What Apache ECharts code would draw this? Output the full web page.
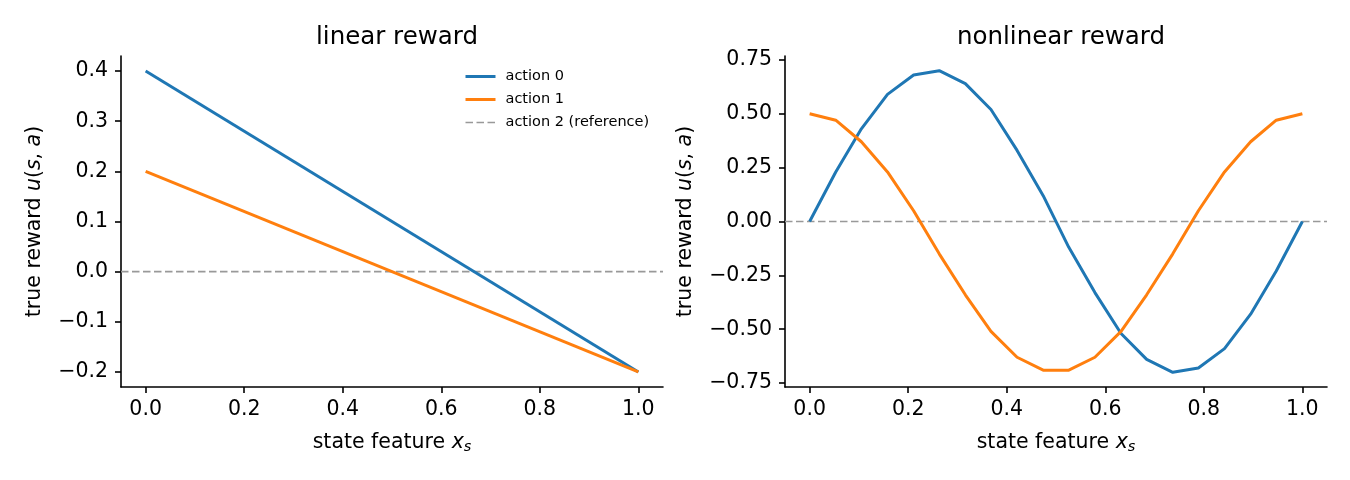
<!DOCTYPE html>
<html>
<head>
<meta charset="utf-8">
<script src="https://cdn.jsdelivr.net/npm/echarts@6/dist/echarts.min.js"></script>
<style>
  html, body { margin: 0; padding: 0; background: #fff; }
  #chart { width: 1350px; height: 480px; }
</style>
</head>
<body>
<div id="chart"></div>
<script>
// 左图: 线性奖励 (两端点)
const linX = [0.0, 1.0];
const linAction0 = [0.4, -0.2];
const linAction1 = [0.2, -0.2];

// 右图: 非线性奖励 (20 个采样点)
const nlX = [0.0, 0.053, 0.105, 0.158, 0.211, 0.263, 0.316, 0.368, 0.421, 0.474,
             0.526, 0.579, 0.632, 0.684, 0.737, 0.789, 0.842, 0.895, 0.947, 1.0];
const nlAction0 = [0.0, 0.23, 0.43, 0.59, 0.68, 0.70, 0.64, 0.52, 0.33, 0.12,
                   -0.12, -0.33, -0.52, -0.64, -0.70, -0.68, -0.59, -0.43, -0.23, 0.0];
const nlAction1 = [0.50, 0.47, 0.37, 0.23, 0.05, -0.15, -0.34, -0.51, -0.63, -0.69,
                   -0.69, -0.63, -0.51, -0.34, -0.15, 0.05, 0.23, 0.37, 0.47, 0.50];

// 参考线 (action 2 = 0)
const refX = [-0.05, 1.05];
const refY = [0, 0];

// 刻度
const xTicks = [0.0, 0.2, 0.4, 0.6, 0.8, 1.0];
const yTicksLeft = [-0.2, -0.1, 0.0, 0.1, 0.2, 0.3, 0.4];
const yTicksRight = [-0.75, -0.5, -0.25, 0.0, 0.25, 0.5, 0.75];

const FONT = 'DejaVu Sans';
const FS = 20.5;
const BLUE = '#1f77b4';
const ORANGE = '#ff7f0e';
const GREY = '#999999';

const zip = (xs, ys) => xs.map((x, i) => [x, ys[i]]);
const fmt = (v, d) => (v < 0 ? '\u2212' : '') + Math.abs(v).toFixed(d);

const axisCommon = {
  type: 'value',
  splitLine: {show: false},
  axisLine: {show: true, onZero: false, lineStyle: {color: '#000', width: 1.6}},
  axisTick: {show: true, length: 6, lineStyle: {color: '#000', width: 1.6}},
  axisLabel: {color: '#000', fontFamily: FONT, fontSize: FS},
  nameTextStyle: {color: '#000', fontFamily: FONT, fontSize: FS}
};

const xName = '{n|state feature }{i|x}{s|s}';
const yName = '{n|true reward }{i|u}{n|(}{i|s}{n|, }{i|a}{n|)}';
const richName = {
  n: {fontFamily: FONT, fontSize: FS, color: '#000'},
  i: {fontFamily: FONT, fontSize: FS, fontStyle: 'italic', color: '#000'},
  s: {fontFamily: FONT, fontSize: 14.5, fontStyle: 'italic', color: '#000', padding: [10, 0, 0, 0]}
};

const makeX = (gridIndex) => ({
  ...axisCommon,
  gridIndex,
  min: -0.05,
  max: 1.05,
  axisTick: {...axisCommon.axisTick, customValues: xTicks},
  axisLabel: {...axisCommon.axisLabel, margin: 12, customValues: xTicks, formatter: v => fmt(v, 1)},
  name: xName,
  nameLocation: 'middle',
  nameGap: 43,
  nameTextStyle: {...axisCommon.nameTextStyle, rich: richName}
});

const makeY = (gridIndex, min, max, ticks, dec, gap) => ({
  ...axisCommon,
  gridIndex,
  min,
  max,
  axisTick: {...axisCommon.axisTick, customValues: ticks},
  axisLabel: {...axisCommon.axisLabel, margin: 13, customValues: ticks, formatter: v => fmt(v, dec)},
  name: yName,
  nameLocation: 'middle',
  nameRotate: 90,
  nameGap: gap,
  nameTextStyle: {...axisCommon.nameTextStyle, rich: richName}
});

const lineSeries = (name, data, color, xi, extra = {}) => ({
  name,
  type: 'line',
  xAxisIndex: xi,
  yAxisIndex: xi,
  data,
  symbol: 'none',
  silent: true,
  animation: false,
  lineStyle: {color, width: 3},
  itemStyle: {color},
  ...extra
});

const refStyle = {lineStyle: {color: GREY, width: 1.7, type: [7.5, 3.5]}, itemStyle: {color: GREY}, z: 1};

const chart = echarts.init(document.getElementById('chart'), null, {renderer: 'canvas'});

chart.setOption({
  backgroundColor: '#fff',
  animation: false,
  title: [
    {text: 'linear reward', left: 392, top: 20, textAlign: 'center',
      textStyle: {fontFamily: FONT, fontSize: 24.5, fontWeight: 'normal', color: '#000'}},
    {text: 'nonlinear reward', left: 1056, top: 20, textAlign: 'center',
      textStyle: {fontFamily: FONT, fontSize: 24.5, fontWeight: 'normal', color: '#000'}}
  ],
  legend: {
    orient: 'vertical',
    left: 464,
    top: 69,
    padding: 0,
    itemWidth: 30,
    itemHeight: 14,
    itemGap: 8,
    data: [
      {name: 'action 0', lineStyle: {width: 3}},
      {name: 'action 1', lineStyle: {width: 3}},
      {name: 'action 2 (reference)', lineStyle: {width: 1.7}}
    ],
    itemStyle: {opacity: 0},
    textStyle: {fontFamily: FONT, fontSize: 14.5, color: '#000', padding: [0, 0, 0, 5]}
  },
  grid: [
    {left: 121, top: 56, width: 542, height: 331},
    {left: 785, top: 56, width: 542, height: 331}
  ],
  xAxis: [makeX(0), makeX(1)],
  yAxis: [
    makeY(0, -0.23, 0.43, yTicksLeft, 1, 76),
    makeY(1, -0.768, 0.768, yTicksRight, 2, 89)
  ],
  series: [
    lineSeries('action 0', zip(linX, linAction0), BLUE, 0),
    lineSeries('action 1', zip(linX, linAction1), ORANGE, 0),
    lineSeries('action 2 (reference)', zip(refX, refY), GREY, 0, refStyle),
    lineSeries('action 0 ', zip(nlX, nlAction0), BLUE, 1),
    lineSeries('action 1 ', zip(nlX, nlAction1), ORANGE, 1),
    lineSeries('action 2 ', zip(refX, refY), GREY, 1, refStyle)
  ]
});
</script>
</body>
</html>
